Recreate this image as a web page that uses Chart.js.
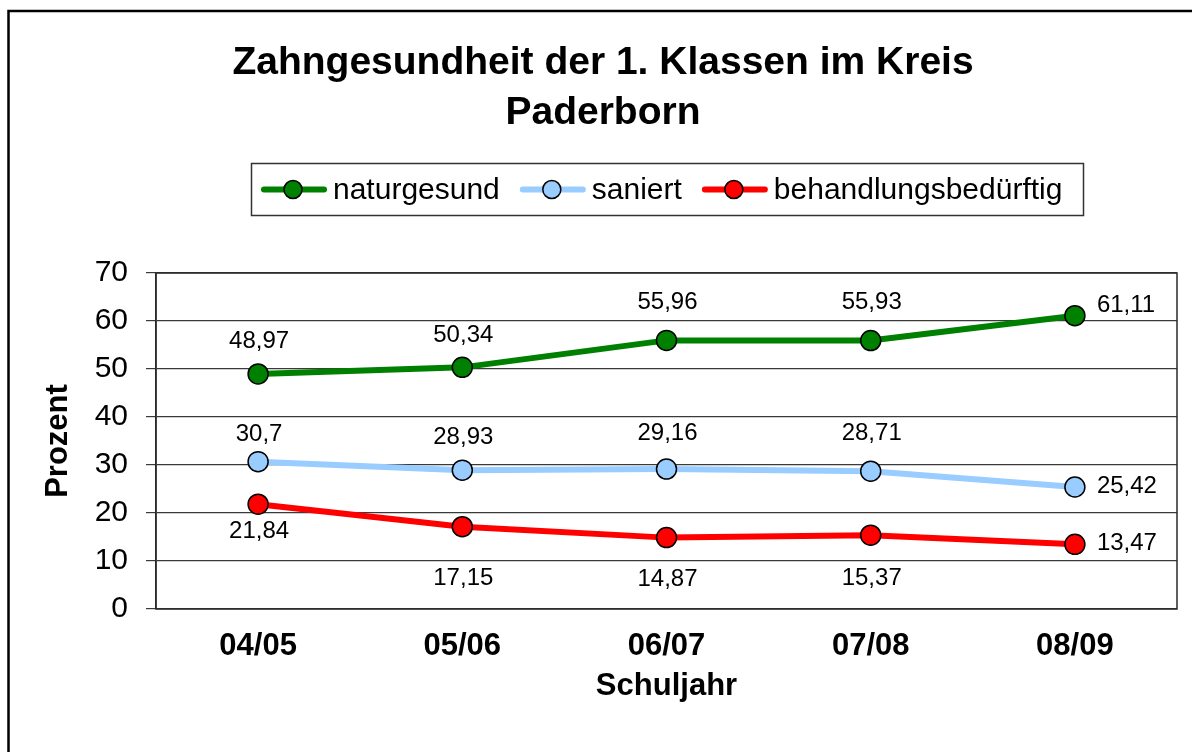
<!DOCTYPE html>
<html>
<head>
<meta charset="utf-8">
<title>Zahngesundheit der 1. Klassen im Kreis Paderborn</title>
<script src="https://cdn.jsdelivr.net/npm/chart.js@4/dist/chart.umd.min.js"></script>
<style>
  html, body { margin: 0; padding: 0; background: #fff; }
  #wrap { width: 1192px; height: 752px; position: relative; }
</style>
</head>
<body>
<div id="wrap"><canvas id="c" width="1192" height="752"></canvas></div>
<script>
// ---- data ----
const titleLines = ['Zahngesundheit der 1. Klassen im Kreis', 'Paderborn'];
const schoolYears = ['04/05', '05/06', '06/07', '07/08', '08/09'];
const naturgesund = [48.97, 50.34, 55.96, 55.93, 61.11];
const saniert = [30.7, 28.93, 29.16, 28.71, 25.42];
const behandlungsbeduerftig = [21.84, 17.15, 14.87, 15.37, 13.47];
const yTicks = [0, 10, 20, 30, 40, 50, 60, 70];
const seriesNames = ['naturgesund', 'saniert', 'behandlungsbedürftig'];
const seriesColors = ['#008000', '#99CCFF', '#FF0000'];
const xTitle = 'Schuljahr';
const yTitle = 'Prozent';

// ---- value label placement (side of the point, vertical shift in px) ----
const labelSide = [
  ['above', 'above', 'above', 'above', 'right'],
  ['above', 'above', 'above', 'above', 'right'],
  ['below', 'below', 'below', 'below', 'right']
];
const labelShift = [
  [-33, -32, -38, -38, -10],
  [-27, -33, -36, -38, -1],
  [27, 52, 42, 43, -1]
];

const FONT = "'Liberation Sans', Arial, Helvetica, sans-serif";
const fmt = v => String(v).replace('.', ',');

// frame, title, legend, plot border and value labels
const decorations = {
  id: 'decorations',
  beforeDraw(chart) {
    const ctx = chart.ctx;
    ctx.save();
    ctx.fillStyle = '#ffffff';
    ctx.fillRect(0, 0, chart.width, chart.height);
    // outer frame
    ctx.strokeStyle = '#000';
    ctx.lineWidth = 2.5;
    ctx.beginPath();
    ctx.moveTo(8.5, chart.height + 5);
    ctx.lineTo(8.5, 11);
    ctx.lineTo(chart.width + 5, 11);
    ctx.stroke();
    // title
    ctx.fillStyle = '#000';
    ctx.font = 'bold 39px ' + FONT;
    ctx.textAlign = 'center';
    ctx.textBaseline = 'middle';
    titleLines.forEach((t, i) => ctx.fillText(t, 603, 63 + i * 50));
    // legend
    const boxL = 251.5, boxT = 163.5, boxR = 1083.5, boxB = 215.5;
    ctx.strokeStyle = '#333';
    ctx.lineWidth = 1.5;
    ctx.strokeRect(boxL, boxT, boxR - boxL, boxB - boxT);
    ctx.font = '30px ' + FONT;
    ctx.textAlign = 'left';
    let x = 262;
    const ly = 189.5;
    chart.data.datasets.forEach(ds => {
      ctx.strokeStyle = ds.borderColor;
      ctx.lineWidth = 6;
      ctx.lineCap = 'round';
      ctx.beginPath();
      ctx.moveTo(x + 2, ly);
      ctx.lineTo(x + 62, ly);
      ctx.stroke();
      ctx.beginPath();
      ctx.arc(x + 31, ly, 9, 0, Math.PI * 2);
      ctx.fillStyle = ds.pointBackgroundColor;
      ctx.fill();
      ctx.lineWidth = 1.5;
      ctx.strokeStyle = '#000';
      ctx.stroke();
      ctx.fillStyle = '#000';
      ctx.fillText(ds.label, x + 71, ly + 1);
      x += 71 + ctx.measureText(ds.label).width + 21;
    });
    ctx.restore();
  },
  afterDraw(chart) {
    const ctx = chart.ctx;
    const a = chart.chartArea;
    ctx.save();
    ctx.strokeStyle = '#2a2a2a';
    ctx.lineWidth = 1.5;
    ctx.strokeRect(a.left, a.top, a.right - a.left, a.bottom - a.top);
    ctx.restore();
  },
  afterDatasetsDraw(chart) {
    const ctx = chart.ctx;
    ctx.save();
    ctx.font = '24px ' + FONT;
    ctx.fillStyle = '#000';
    ctx.textBaseline = 'middle';
    chart.data.datasets.forEach((ds, di) => {
      const meta = chart.getDatasetMeta(di);
      meta.data.forEach((pt, i) => {
        const side = labelSide[di][i];
        const dy = labelShift[di][i];
        const text = fmt(ds.data[i]);
        if (side === 'right') {
          ctx.textAlign = 'left';
          ctx.fillText(text, pt.x + 22, pt.y + dy);
        } else {
          ctx.textAlign = 'center';
          ctx.fillText(text, pt.x + 1, pt.y + dy);
        }
      });
    });
    ctx.restore();
  }
};

const seriesValues = [naturgesund, saniert, behandlungsbeduerftig];

new Chart(document.getElementById('c'), {
  type: 'line',
  data: {
    labels: schoolYears,
    datasets: seriesValues.map((vals, i) => ({
      label: seriesNames[i],
      data: vals,
      borderColor: seriesColors[i],
      backgroundColor: seriesColors[i],
      pointBackgroundColor: seriesColors[i],
      pointBorderColor: '#000',
      pointBorderWidth: 1.5,
      pointRadius: 10,
      pointHoverRadius: 10,
      borderWidth: 6,
      tension: 0,
      fill: false
    }))
  },
  plugins: [decorations],
  options: {
    responsive: false,
    animation: false,
    events: [],
    layout: { padding: { left: 40, top: 273, right: 15, bottom: 47 } },
    plugins: {
      legend: { display: false },
      title: { display: false },
      tooltip: { enabled: false }
    },
    scales: {
      x: {
        offset: true,
        grid: { display: false, drawTicks: false },
        border: { display: false },
        ticks: {
          color: '#000',
          padding: 19,
          font: { family: FONT, size: 31, weight: 'bold' }
        },
        title: {
          display: true,
          text: xTitle,
          color: '#000',
          padding: 0,
          font: { family: FONT, size: 31, weight: 'bold' }
        },
        afterFit: s => { s.height = 96; }
      },
      y: {
        min: 0,
        max: 70,
        afterBuildTicks: s => { s.ticks = yTicks.map(v => ({ value: v })); },
        grid: {
          color: '#3a3a3a',
          lineWidth: 1.2,
          drawTicks: true,
          tickLength: 10,
          tickColor: '#3a3a3a'
        },
        border: { display: true, color: '#2a2a2a', width: 1.5 },
        ticks: {
          color: '#000',
          padding: 18,
          font: { family: FONT, size: 30 }
        },
        title: {
          display: true,
          text: yTitle,
          color: '#000',
          padding: 0,
          font: { family: FONT, size: 31, weight: 'bold' }
        },
        afterFit: s => { s.width = 116; }
      }
    }
  }
});
</script>
</body>
</html>
